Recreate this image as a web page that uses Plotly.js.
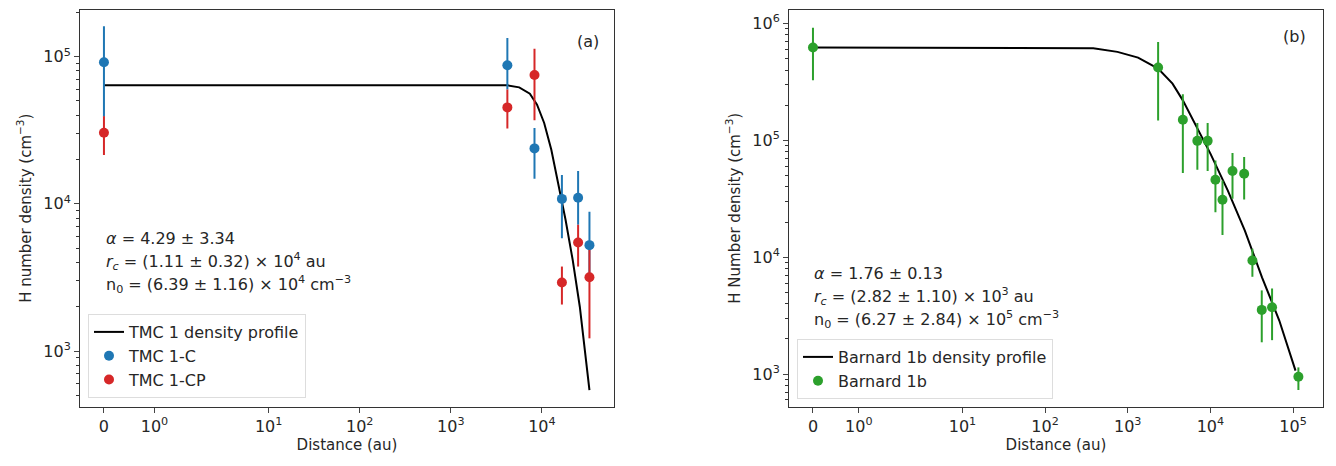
<!DOCTYPE html>
<html>
<head>
<meta charset="utf-8">
<script src="https://cdn.plot.ly/plotly-3.0.1.min.js"></script>
<style>body{margin:0;background:#fff}#chart{width:1336px;height:466px}</style>
</head>
<body>
<div id="chart"></div>
<script>
// (a) TMC 1
var tmcCurveX = [0, 4180, 5640, 7380, 8850, 10600, 12700, 15200, 18200, 21800, 26100, 33300];
var tmcCurveY = [63800, 63800, 61800, 56000, 47100, 35400, 23300, 13800, 7800, 4160, 2000, 543];
var tmcCX = [0, 4180, 8300, 16600, 25000, 33300];
var tmcCY = [91500, 87300, 23800, 10800, 11000, 5240];
var tmcCHi = [161000, 134000, 32700, 15700, 16700, 8830];
var tmcCLo = [39000, 59700, 14800, 5830, 7200, 3200];
var tmcCPX = [0, 4180, 8300, 16600, 25000, 33300];
var tmcCPY = [30400, 45200, 75000, 2920, 5460, 3170];
var tmcCPHi = [39300, 59700, 113000, 3750, 7200, 4860];
var tmcCPLo = [21500, 32500, 36900, 2070, 3750, 1220];

// (b) Barnard 1b
var b1CurveX = [0, 383, 750, 1333, 2330, 3480, 4640, 6190, 10000, 16200, 26100, 42200, 68100, 107000];
var b1CurveY = [623000, 615000, 572000, 511000, 411000, 306000, 220000, 148000, 77000, 37300, 16900, 6700, 2870, 1070];
var b1X = [0, 2330, 4640, 6950, 9260, 11500, 14000, 18500, 25600, 32200, 41800, 55700, 116000];
var b1Y = [623000, 420000, 150000, 99000, 99000, 46000, 31000, 54600, 51800, 9370, 3540, 3730, 948];
var b1Hi = [920000, 696000, 248000, 141000, 141000, 67400, 45400, 78000, 72000, 11800, 5200, 5400, 1140];
var b1Lo = [327000, 148000, 52500, 56000, 54600, 24300, 15500, 31600, 31200, 6800, 1870, 1950, 730];

var xTickVals = [0, 1, 10, 100, 1000, 10000, 100000];
var xTickText = ['0', '10<sup>0</sup>', '10<sup>1</sup>', '10<sup>2</sup>', '10<sup>3</sup>', '10<sup>4</sup>', '10<sup>5</sup>'];

// symlog-like distance scale
function sx(d) {
    if (d <= 1) return 0.555 * d;
    if (d <= 10) return 0.555 + 1.253 * Math.log10(d);
    return 0.808 + Math.log10(d);
}
function tx(arr) { return arr.map(sx); }
function up(hi, v) { return hi.map(function(h, i) { return h - v[i]; }); }
function dn(lo, v) { return lo.map(function(l, i) { return v[i] - l; }); }

function minorTicks(lo, hi) {
    var out = [];
    for (var e = lo; e <= hi; e++) for (var k = 2; k <= 9; k++) out.push(k * Math.pow(10, e));
    return out;
}

var font = {family: 'DejaVu Sans, sans-serif', size: 16, color: '#262626'};
var smallFont = {family: 'DejaVu Sans, sans-serif', size: 15, color: '#262626'};

function pts(name, x, y, hi, lo, color, xa, ya) {
    return {
        name: name, x: tx(x), y: y, xaxis: xa, yaxis: ya, type: 'scatter', mode: 'markers',
        marker: {color: color, size: 10},
        error_y: {type: 'data', symmetric: false, array: up(hi, y), arrayminus: dn(lo, y),
            color: color, thickness: 2, width: 0},
        legend: xa === 'x' ? 'legend' : 'legend2'
    };
}

var traces = [
    {name: 'TMC 1 density profile', x: tx(tmcCurveX), y: tmcCurveY, mode: 'lines',
        line: {color: 'black', width: 2}, xaxis: 'x', yaxis: 'y', legend: 'legend'},
    pts('TMC 1-C', tmcCX, tmcCY, tmcCHi, tmcCLo, '#1f77b4', 'x', 'y'),
    pts('TMC 1-CP', tmcCPX, tmcCPY, tmcCPHi, tmcCPLo, '#d62728', 'x', 'y'),
    {name: 'Barnard 1b density profile', x: tx(b1CurveX), y: b1CurveY, mode: 'lines',
        line: {color: 'black', width: 2}, xaxis: 'x2', yaxis: 'y2', legend: 'legend2'},
    pts('Barnard 1b', b1X, b1Y, b1Hi, b1Lo, '#2ca02c', 'x2', 'y2')
];

function xaxis(domain, range, n) {
    return {domain: domain, range: range, tickvals: tx(xTickVals.slice(0, n)), ticktext: xTickText.slice(0, n),
        ticks: 'outside', ticklen: 5, showgrid: false, zeroline: false, showline: true, mirror: true,
        linecolor: '#333', title: {text: 'Distance (au)', font: smallFont, standoff: 4}, tickfont: font};
}
function yaxis(domain, range, majors, minors, anchor, title) {
    return {domain: domain, type: 'log', range: range, anchor: anchor, tickvals: majors,
        ticktext: majors.map(function(v) { return '10<sup>' + Math.round(Math.log10(v)) + '</sup>'; }),
        ticks: 'outside', ticklen: 5, showgrid: false, zeroline: false, showline: true, mirror: true,
        linecolor: '#333', tickfont: font, title: {text: title, font: smallFont, standoff: 8},
        minor: {tickvals: minors, ticks: 'outside', ticklen: 3, tickcolor: '#333', showgrid: false}};
}

var yDom = [1 - 407 / 466, 1 - 9.5 / 466];
var layout = {
    width: 1336, height: 466, margin: {l: 0, r: 0, t: 0, b: 0},
    paper_bgcolor: 'white', plot_bgcolor: 'white', font: font,
    xaxis: xaxis([80 / 1336, 614 / 1336], [-0.263, 5.6], 6),
    yaxis: yaxis(yDom, [2.62, 5.32], [1e3, 1e4, 1e5], minorTicks(2, 5), 'x', 'H number density (cm<sup>\u22123</sup>)'),
    xaxis2: xaxis([789 / 1336, 1323 / 1336], [-0.29, 6.17], 7),
    yaxis2: yaxis(yDom, [2.718, 6.12], [1e3, 1e4, 1e5, 1e6], minorTicks(2, 5), 'x2', 'H Number density (cm<sup>\u22123</sup>)'),
    legend: {x: 88 / 1336, y: 1 - 314 / 466, xanchor: 'left', yanchor: 'top', bgcolor: 'rgba(255,255,255,0.8)',
        bordercolor: '#ddd', borderwidth: 1, font: font, tracegroupgap: 0},
    legend2: {x: 797 / 1336, y: 1 - 339 / 466, xanchor: 'left', yanchor: 'top', bgcolor: 'rgba(255,255,255,0.8)',
        bordercolor: '#ddd', borderwidth: 1, font: font, tracegroupgap: 0},
    annotations: [
        {text: '(a)', x: 588 / 1336, y: 1 - 41 / 466},
        {text: '(b)', x: 1294 / 1336, y: 1 - 37 / 466},
        {text: '<i>α</i> = 4.29 ± 3.34', x: 104 / 1336, y: 1 - 238 / 466, xanchor: 'left'},
        {text: '<i>r<sub>c</sub></i> = (1.11 ± 0.32) × 10<sup>4</sup> au', x: 104 / 1336, y: 1 - 261 / 466, xanchor: 'left'},
        {text: 'n<sub>0</sub> = (6.39 ± 1.16) × 10<sup>4</sup> cm<sup>\u22123</sup>', x: 104 / 1336, y: 1 - 284 / 466, xanchor: 'left'},
        {text: '<i>α</i> = 1.76 ± 0.13', x: 812 / 1336, y: 1 - 273 / 466, xanchor: 'left'},
        {text: '<i>r<sub>c</sub></i> = (2.82 ± 1.10) × 10<sup>3</sup> au', x: 812 / 1336, y: 1 - 296 / 466, xanchor: 'left'},
        {text: 'n<sub>0</sub> = (6.27 ± 2.84) × 10<sup>5</sup> cm<sup>\u22123</sup>', x: 812 / 1336, y: 1 - 319 / 466, xanchor: 'left'}
    ].map(function(a) {
        a.xref = 'paper'; a.yref = 'paper'; a.showarrow = false; a.font = font;
        a.xanchor = a.xanchor || 'center'; a.yanchor = 'middle';
        return a;
    })
};

Plotly.newPlot('chart', traces, layout, {displayModeBar: false, staticPlot: true});
</script>
</body>
</html>
